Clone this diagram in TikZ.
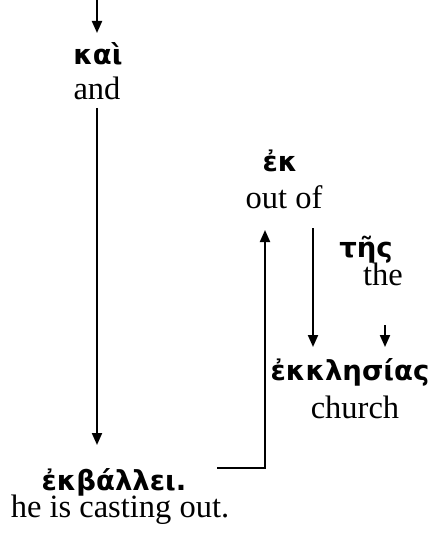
\documentclass[tikz,border=0pt]{standalone}
\usepackage{fontspec}
\setmainfont{Liberation Serif}
\newfontfamily\greekfont{DejaVu Sans}
\usetikzlibrary{arrows.meta}
\tikzset{
  gk/.style={font=\greekfont\bfseries\fontsize{27.5}{30}\selectfont, inner sep=0pt, anchor=base},
  en/.style={font=\fontsize{32.5}{36}\selectfont, inner sep=0pt, anchor=base},
  link/.style={line width=2pt, -{Triangle[length=12pt,width=10pt]}},
}
\begin{document}
\begin{tikzpicture}[x=1pt,y=-1pt]
\useasboundingbox (0,0) rectangle (430,537);
% words, placed on their baselines
\node[gk] (kai) at (98,65) {καὶ};
\node[en] (and) at (97,100) {and};
\node[gk] (ek) at (280,172) {ἐκ};
\node[en] (outof) at (284,208) {out of};
\node[gk] (tes) at (366,257) {τῆς};
\node[en] (the) at (383,285) {the};
\node[gk] (ekklesias) at (350,380) {ἐκκλησίας};
\node[en] (church) at (355,418) {church};
\node[gk] (ekballei) at (114,490) {ἐκβάλλει.};
\node[en] (casting) at (120,517) {he is casting out.};
% connectors
\coordinate (top) at (97,0);
\coordinate (kaitop) at (97,33);
\draw[link] (top) -- (kaitop);
\coordinate (a1) at (97,108);
\coordinate (a2) at (97,445);
\draw[link] (a1) -- (a2);
\coordinate (b1) at (217,468);
\coordinate (b2) at (265,468);
\coordinate (b3) at (265,230);
\draw[link] (b1) -- (b2) -- (b3);
\coordinate (c1) at (313,228);
\coordinate (c2) at (313,347);
\draw[link] (c1) -- (c2);
\coordinate (d1) at (385,325);
\coordinate (d2) at (385,347);
\draw[link] (d1) -- (d2);
\end{tikzpicture}
\end{document}
